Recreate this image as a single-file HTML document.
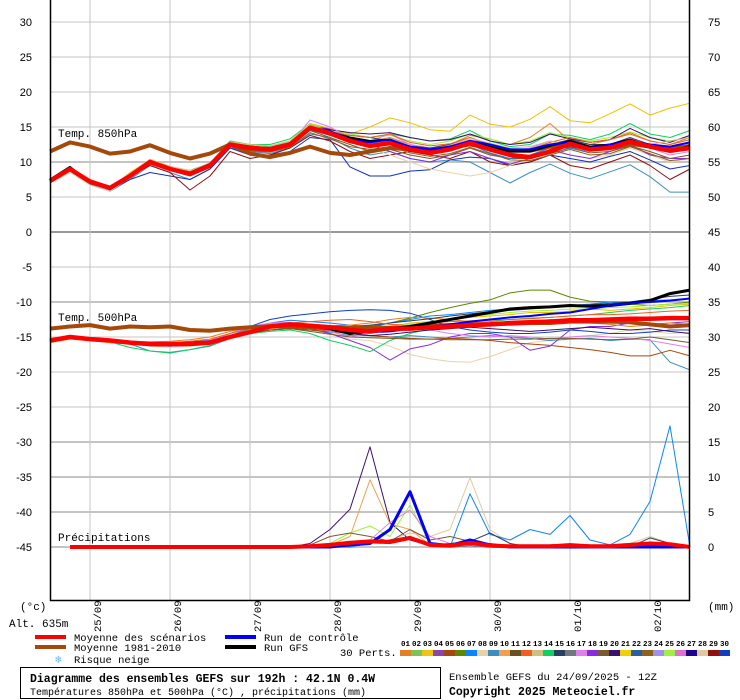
<!DOCTYPE html>
<html><head><meta charset="utf-8"><style>
html,body{margin:0;padding:0;background:#fff;}
svg{display:block;}
text{font-family:"Liberation Mono",monospace;}
.ax{font-family:"Liberation Sans",sans-serif;font-size:11px;fill:#000;}
</style></head><body>
<svg id="chart" width="740" height="700" viewBox="0 0 740 700" xmlns="http://www.w3.org/2000/svg">
<g id="grid"></g>
<g id="series"></g>
<g id="axes"></g>
<text x="58" y="137" font-size="11">Temp. 850hPa</text>
<text x="58" y="321" font-size="11">Temp. 500hPa</text>
<text x="58" y="541" font-size="11">Précipitations</text>
<text x="20" y="610" font-size="11">(°c)</text>
<text x="708" y="610" font-size="11">(mm)</text>
<text x="9" y="627" font-size="11">Alt. 635m</text>
<g>
<rect x="35" y="635" width="31" height="4" fill="#ff0000"/>
<text x="74" y="641" font-size="10.5">Moyenne des scénarios</text>
<rect x="35" y="645" width="31" height="4" fill="#a5490a"/>
<text x="74" y="651" font-size="10.5">Moyenne 1981-2010</text>
<text x="55" y="663" font-size="11" fill="#6ab8f0">❄</text>
<text x="74" y="663" font-size="10.5">Risque neige</text>
<rect x="225" y="635" width="31" height="4" fill="#0000ff"/>
<text x="264" y="641" font-size="10.5">Run de contrôle</text>
<rect x="225" y="645" width="31" height="4" fill="#000"/>
<text x="264" y="651" font-size="10.5">Run GFS</text>
<text x="340" y="656" font-size="10.5">30 Perts.</text>
<g id="perts"></g>
</g>
<rect x="20.5" y="667.5" width="420" height="31" fill="none" stroke="#000"/>
<text x="30" y="682" font-size="11.5" font-weight="bold">Diagramme des ensembles GEFS sur 192h : 42.1N 0.4W</text>
<text x="30" y="695" font-size="10">Températures 850hPa et 500hPa (°C) , précipitations (mm)</text>
<text x="449" y="680" font-size="10.5">Ensemble GEFS du 24/09/2025 - 12Z</text>
<text x="449" y="695" font-size="11.5" font-weight="bold">Copyright 2025 Meteociel.fr</text>
</svg>
<script>
const days = ["25/09","26/09","27/09","28/09","29/09","30/09","01/10","02/10"];
const leftTicks = [30,25,20,15,10,5,0,-5,-10,-15,-20,-25,-30,-35,-40,-45];
const rightTicks = [75,70,65,60,55,50,45,40,35,30,25,20,15,10,5,0];
const m850 = [7.3,9,7.2,6.3,8,10,9,8.3,9.5,12.5,12,11.8,12.5,14.9,14.1,13,12.3,12.7,11.8,11.3,11.8,12.7,11.8,11,10.7,11.5,12.6,11.8,12,12.9,12.2,11.6,12];
const c850 = [11.5,12.8,12.2,11.2,11.5,12.4,11.3,10.5,11.2,12.5,11.2,10.7,11.3,12.2,11.3,11,11.5,12,11.8,11.6,12.1,12.5,12,11.6,11.6,12.2,12.3,12,12,12.6,12.2,12,12.2];
const ctl850 = [7.4,9.1,7.1,6.2,7.9,9.9,9,8.2,9.5,12.4,12,11.8,12.6,15,14.4,13.2,12.8,13.2,12.2,11.8,12.2,13,12.5,11.8,11.8,12.5,12.8,12,12.5,13,12.5,12.2,12.8];
const gfs850 = [7.5,9.3,7,6.3,8,10,9.1,8.5,9.7,12.6,12,11.9,12.5,15,14.2,13.5,13,13.2,12,11.5,12,13,12.2,11.5,11.5,12.3,13,12.2,12.5,13.2,12.3,11.5,12.3];
const p850a = [7.5,9.2,7,6.2,8.5,10.3,9.3,8.8,9.8,12.8,12.3,12.2,13,15.5,14.8,14,15,16.3,15.6,14.6,14.4,16.7,15.4,15,16.1,17.9,15.9,15.6,16.9,18.3,16.7,17.7,18.4];
const p850b = [7,8.7,6.8,5.8,7.5,9.5,8.5,7.5,9,12,11.5,11.2,12,14,13.5,12,11,11.5,10.5,10,10.3,10,8.5,7,8.5,9.7,8.4,7.6,8.6,9.6,7.9,5.7,5.7];
const p850c = [7.4,9,7,6,7.5,8.5,8,7.5,9,12,11,11,11.5,13.5,13.2,9.3,8,8,8.7,8.9,10.3,10.7,10.5,9.5,10,11,10.5,10,10.8,11.5,10.3,9,9.5];
const p850d = [7.3,9,7.5,6.5,8.2,10.2,9.3,8.8,9.8,13,12.5,12.5,13.3,15.5,14.5,14,13.5,14,13.5,13,13.3,14.5,13,12.2,12.5,14,13.8,13.2,14,15.5,14,13.5,14.5];
const p850e = [7.2,9,7,6.2,8,9.5,8.5,6,8,11.5,10.5,11,12,13.8,13,11.5,10.5,11,11.5,11,10.5,11.5,10,9.5,10,11,9.5,9,10,11,9.5,7.5,9];
const p850f = [7.5,9.1,7.2,6.4,8.2,10,9.2,8.6,9.7,12.7,12.2,12,12.7,15,14.5,13.5,13,13.5,12.5,12,12.5,13.8,13.3,12.5,13.5,15.5,13,12.5,13.2,14.2,13,12.5,13.5];
const p850g = [7,8.5,6.7,5.8,7.8,10,9.3,8.8,9.5,12.3,11.8,11.6,12.2,15,14.6,13.5,12,11,10,9,8.5,8,8.5,9.5,10.5,11.5,11,10.5,11,12,11,10,10.5];
const p850h = [7.2,9,7.1,6.4,8,10,9,8.3,9.4,12.6,12,11.8,12.5,15.3,14.7,13.5,12.5,11.5,10.5,10,11,11.5,10.5,9.7,10.5,11.8,11,10.5,11.5,12.5,11,10.5,10.5];
const p850i = [7.3,9,7.2,6.3,8.3,10.2,9.2,8.5,9.7,12.8,12.4,12.2,13,15.5,14.5,14,13.5,13.8,13,12.5,13,14,13.3,12.5,13,14.2,13.5,13,13.5,14.3,13.5,13,13.5];
const p850j = [7.4,9.2,7.3,6.4,8.2,10.3,9.1,8.4,9.6,12.6,12.2,12.1,12.8,15.2,14.6,14.2,14,14.2,13.5,13,13.2,14,13,12.5,12.8,14,13.3,12.8,13.2,14.8,13.5,12.8,13.8];
const p850k = [7.3,9,7.1,6.3,8,10,9,8.4,9.5,12.6,12,11.8,12.5,16,15,13.5,13,14,12.5,12,12.3,13.2,12.5,11.5,12,13,12.5,12,12.5,13.5,12,11,11.5];
const p850l = [7.5,9.3,7.3,6.4,8.1,10.1,9,8.4,9.6,12.7,12.3,12,12.6,14.5,14,13.8,13.5,13,12.3,12,12.5,13.5,12.5,11.5,11.5,12.5,13.2,12.5,12.5,13.5,12.5,12,12.5];
const p850m = [7.4,9.1,7.2,6.4,8.1,10.1,9.1,8.4,9.6,12.7,12.1,12,12.8,15.1,14.3,13.8,13.5,14,12.8,12.3,12.6,13.5,12.3,11.5,11.8,12.8,13.5,12.8,13.2,14,13,12.5,13.2];
const p850n = [7.2,8.9,7,6.2,7.9,9.8,8.8,8.1,9.3,12.3,11.7,11.5,12.2,14.5,13.5,12.5,11.5,11.8,11,10.5,11,12,11,10.5,10.5,11.2,12,11.3,11.5,12.3,11.5,10.5,11];
const p850o = [7.3,9,7.2,6.3,8,9.8,9,8.3,9.4,12.4,11.8,11.6,12.4,14.6,13.8,12.8,12.5,13,12,11.5,12,12.5,11.3,10.5,11,12,12,11.5,12,12.5,12,11.5,11.8];
const p850p = [7.5,9.2,7.3,6.5,8.3,10.4,9.4,8.7,9.9,12.9,12.5,12.3,13,15.3,14.4,13.2,12.6,13.3,12.3,11.8,12.4,13.4,12.7,12,12.2,13,12.3,11.5,11.8,13,12.5,13,13.5];
const p850q = [7.1,8.8,6.9,6.1,7.8,9.7,8.8,8,9.2,12.2,11.6,11.4,12.1,14.2,13.3,12.2,11.8,12.2,11.3,10.8,11.2,12.1,11.2,10.3,10.2,11,11.8,11,11.2,12.2,11.2,10.2,10.5];
const m500 = [-15.5,-15,-15.3,-15.5,-15.8,-16,-16,-16,-15.8,-15,-14.3,-13.5,-13.2,-13.4,-13.6,-14,-14.2,-13.8,-13.8,-13.6,-13.5,-13.3,-13.2,-13,-12.9,-12.8,-12.6,-12.6,-12.5,-12.4,-12.4,-12.3,-12.3];
const c500 = [-13.8,-13.5,-13.3,-13.8,-13.5,-13.6,-13.5,-14,-14.1,-13.8,-13.6,-13.5,-13.5,-13.6,-13.8,-13.7,-13.6,-13.7,-13.6,-13.4,-13.3,-13.2,-13.2,-13.1,-13,-13,-12.8,-12.8,-12.8,-12.9,-13.2,-13.5,-13.3];
const ctl500 = [-15.5,-15.1,-15.3,-15.6,-15.8,-16,-16,-15.8,-15.6,-15,-14.2,-13.6,-13.3,-13.5,-13.8,-14,-14.3,-14.2,-13.8,-13.5,-13.2,-12.8,-12.5,-12.2,-12,-11.7,-11.5,-11,-10.5,-10.2,-10,-9.8,-9.5];
const gfs500 = [-15.5,-15,-15.3,-15.5,-15.8,-16.1,-16.1,-16,-15.7,-15,-14.3,-13.5,-13.2,-13.3,-13.8,-14.5,-14.2,-13.8,-13.5,-13,-12.5,-12,-11.5,-11,-10.8,-10.7,-10.5,-10.6,-10.5,-10.2,-9.8,-8.8,-8.3];
const p500a = [-15.3,-14.8,-15.2,-15.6,-16,-16.2,-16.3,-16.2,-16,-15.2,-14.5,-13.8,-13.5,-13.7,-13.8,-13.9,-13.6,-13,-12.3,-11.5,-10.8,-10.2,-9.7,-8.7,-8.3,-8.3,-9.3,-9.9,-10,-10.3,-10.5,-10.3,-10];
const p500b = [-15.8,-15.2,-15.5,-15.8,-16,-16.3,-16.5,-16.3,-16,-15,-14.2,-13.8,-13.7,-14,-14.5,-15.3,-15.5,-16.3,-17.5,-18.1,-18.5,-18.6,-17.8,-16.8,-15.8,-15.5,-15,-14.8,-14.5,-14,-14.2,-14.5,-14.3];
const p500c = [-15.5,-15,-15.3,-15.5,-16,-17,-17.2,-16.8,-16.3,-15.2,-14.5,-14,-13.8,-14,-14.3,-14.8,-14.8,-15,-14.8,-15,-15.2,-15,-14.8,-15,-15.2,-15.5,-15.3,-15.2,-15.5,-15.3,-15.4,-18.6,-19.7];
const p500d = [-15.6,-15.1,-15.4,-15.8,-16,-16.2,-16.3,-16.2,-15.8,-14.8,-14,-13.5,-13.2,-13.8,-14.5,-15.5,-16.5,-18.3,-16.7,-16.1,-15,-14.5,-14.5,-15,-16.9,-16.3,-14,-13.5,-13.5,-13,-13.2,-13,-12.8];
const p500e = [-15.4,-15,-15.3,-15.6,-15.9,-16,-16.1,-16,-15.8,-15,-14.5,-14,-13.8,-14,-14.2,-14.5,-14.8,-15,-15.2,-15.3,-15.2,-15.3,-15.5,-15.8,-16,-16.2,-16.5,-16.8,-17.2,-17.7,-17.7,-16.9,-17.7];
const p500f = [-15.5,-15,-15.3,-15.5,-15.8,-16,-16,-15.9,-15.6,-14.5,-13.5,-12.5,-12,-11.7,-11.4,-11.2,-11.1,-11.2,-11.6,-12.5,-13.5,-14,-14.3,-14.5,-14.5,-14.3,-14,-14.2,-14.5,-14.5,-14.3,-14,-14];
const p500g = [-15.5,-15.1,-15.4,-15.7,-16.5,-17,-17.3,-16.8,-16.2,-15,-14.5,-14.2,-14,-14.5,-15.5,-16.2,-17.1,-15.5,-14.5,-13.8,-13.5,-13,-12.8,-12.5,-12.3,-12.2,-12,-11.8,-11.5,-11.2,-11,-10.8,-10.5];
const p500h = [-15.3,-14.9,-15.1,-15.4,-15.6,-15.8,-15.8,-15.7,-15.5,-14.8,-13.8,-13,-12.6,-12.8,-13,-13.3,-13.5,-13,-12.5,-12,-11.8,-11.5,-11.2,-11,-10.8,-10.6,-10.5,-10.3,-10,-10,-9.8,-9.7,-9.5];
const p500i = [-15.8,-15.3,-15.5,-15.8,-16,-16.1,-16.2,-16,-15.8,-15.2,-14.5,-13.8,-13.5,-13.8,-14,-14.2,-14,-13.5,-13,-12.8,-12.5,-12.2,-12,-11.8,-11.5,-11.5,-11.3,-11,-11.2,-11,-10.8,-10.5,-10.3];
const p500j = [-15.6,-15.2,-15.3,-15.5,-15.6,-15.7,-15.6,-15.4,-15,-14.2,-13.6,-13.2,-13,-13.2,-13.4,-13.3,-13,-12.5,-12.2,-12.3,-12.5,-12.8,-13,-13,-12.8,-12.5,-12.6,-13,-13.2,-13.5,-13.3,-13,-13.2];
const p500k = [-15.5,-15,-15.3,-15.5,-15.8,-15.8,-16,-15.8,-15.5,-14.5,-13.5,-13,-12.9,-13.5,-14.2,-15,-14.5,-14,-13.8,-14,-14.5,-14.8,-15,-14.8,-15,-15.3,-15,-14.8,-15,-15.2,-15.5,-16,-16.5];
const p500l = [-15.5,-15,-15.3,-15.5,-15.8,-16,-16,-15.9,-15.7,-14.9,-14.1,-13.4,-13,-13.2,-13.4,-13.5,-13.3,-13,-12.7,-12.4,-12,-11.7,-11.4,-11.2,-11,-10.8,-10.6,-10.4,-10.2,-10,-9.6,-9.2,-9];
const p500m = [-15.4,-15,-15.2,-15.4,-15.6,-15.8,-15.8,-15.6,-15.3,-14.5,-13.8,-13.2,-13,-12.8,-12.6,-12.5,-12.8,-13.2,-13.3,-13,-12.8,-12.7,-12.6,-12.5,-12.4,-12.2,-12,-11.8,-11.8,-11.7,-11.5,-11.3,-11.2];
const p500n = [-15.6,-15.2,-15.4,-15.6,-15.9,-16.1,-16.2,-16.1,-15.9,-15.1,-14.5,-14,-13.8,-14.2,-14.6,-15,-15.1,-15.2,-15.3,-15.3,-15.4,-15.4,-15.4,-15.3,-15.3,-15.2,-15.2,-15.3,-15.4,-15.3,-15,-15.4,-15.8];
const p500o = [-15.5,-15,-15.3,-15.5,-15.7,-15.9,-15.9,-15.8,-15.6,-14.8,-14,-13.4,-13.1,-13.3,-13.6,-13.8,-13.8,-13.5,-13.2,-12.8,-12.4,-12,-11.8,-11.5,-11.3,-11.2,-11,-11,-10.8,-10.7,-10.5,-10.3,-10.2];
const p500p = [-15.6,-15.1,-15.4,-15.6,-15.9,-16,-16.1,-16,-15.8,-15.1,-14.4,-13.7,-13.4,-13.6,-14,-14.5,-14.8,-14.6,-14.3,-14,-13.8,-13.6,-13.8,-14,-14.2,-14,-13.8,-13.6,-13.8,-14,-13.8,-14.2,-14.5];
const pMean = [0,0,0,0,0,0,0,0,0,0,0,0,0,0.1,0.3,0.6,0.8,0.7,1.3,0.3,0.2,0.6,0.2,0.1,0.1,0.1,0.2,0.1,0.1,0.3,0.5,0.4,0];
const pCtl = [0,0,0,0,0,0,0,0,0,0,0,0,0,0,0,0.3,0.5,2.5,7.9,0.5,0.2,1,0.3,0,0,0,0,0,0,0,0,0,0];
const pIndigo = [0,0,0,0,0,0,0,0,0,0,0,0,0,0.5,2.5,5.4,14.3,3.5,1,0.2,0,0.2,0,0,0,0,0,0,0,0,0,0,0];
const pOrange = [0,0,0,0,0,0,0,0,0,0,0,0,0,0,0.3,1.5,9.6,3.3,2.5,0.3,0,0.5,0.2,0,0,0,0,0,0,0,0,0,0];
const pLime = [0,0,0,0,0,0,0,0,0,0,0,0,0,0,0.5,2,3,1.5,6,0.5,0,0.3,0,0,0,0,0,0,0,0,0,0,0];
const pTan = [0,0,0,0,0,0,0,0,0,0,0,0,0,0,0.2,0.5,1,1,2,1.5,2.5,9.9,2.5,0.5,0,0,0,0,0.3,0.5,1.5,0.5,0];
const pDodger = [0,0,0,0,0,0,0,0,0,0,0,0,0,0,0,0,0.5,1,1.5,0.1,0,7.6,1.8,1,2.5,1.8,4.5,1,0.3,1.8,6.5,17.3,0];
const pBrown = [0,0,0,0,0,0,0,0,0,0,0,0,0,0.3,1.5,2,1.5,0.8,2.5,1,1.5,0.8,0.5,0.2,0.2,0.3,0.5,0.3,0.2,0.3,0.2,0.2,0];
const pViolet = [0,0,0,0,0,0,0,0,0,0,0,0,0,0,0,0.5,1,3.5,5.3,1.5,0.5,0.3,0,0,0,0,0,0,0,0,0,0,0];
const pSlate = [0,0,0,0,0,0,0,0,0,0,0,0,0,0,0,0.2,0.5,1,1.5,0.3,0.5,0.8,2,0.5,0,0,0,0,0,0,1.3,0.5,0];
const pertColors = ["#e67e22","#7dc35a","#f1c40f","#8e44ad","#a5490a","#5a8a00","#0a84ff","#e8d3a8","#3a8fc0","#f0a050","#6b5020","#f06020","#d0c080","#10d060","#284060","#707880","#e080f0","#8a2be2","#7a5a30","#3a1070","#f0d000","#2a60a0","#906020","#a090f0","#a0f040","#e070d0","#200090","#e0c8a0","#901010","#1040c0"];

const NS="http://www.w3.org/2000/svg";
const X0=50,DX=20;
function xs(i){return X0+i*DX;}
function yT(v){return 232-7*v;}
function yP(v){return 547-7*v;}
function mk(tag,attrs,parent){const e=document.createElementNS(NS,tag);for(const k in attrs)e.setAttribute(k,attrs[k]);parent.appendChild(e);return e;}
const grid=document.getElementById('grid'),series=document.getElementById('series'),axes=document.getElementById('axes');

leftTicks.forEach((t,i)=>{
  const y=yT(t);
  const thick=(t===0||t===10||t===-10||t<=-30);
  const l=mk('line',{x1:50,x2:690,y1:y,y2:y,stroke:t===0?'#999':'#c4c4c4','stroke-width':thick?2:1},grid);
  
  
  const tl=mk('text',{x:32,y:y+4,'text-anchor':'end',class:'ax'},axes);tl.textContent=t;
  
  
  const tr=mk('text',{x:708,y:y+4,class:'ax'},axes);tr.textContent=rightTicks[i];
  
  
});
days.forEach((d,i)=>{
  const x=90+i*80;
  const l=mk('line',{x1:x,x2:x,y1:0,y2:600,stroke:'#c4c4c4','stroke-width':1},grid);
  
  
  const t=mk('text',{transform:`translate(${x+11},632) rotate(-90)`,'font-size':'10.5'},axes);t.textContent=d;
  
  
});
const bl=mk('path',{d:'M50.5,0 V600.5 H689.5 V0',fill:'none',stroke:'#000','stroke-width':1.5},axes);



function line(arr,fy,color,w,name,start){
  const pts=[];for(let i=(start||0);i<arr.length;i++)pts.push(xs(i)+','+fy(arr[i]).toFixed(1));
  const p=mk('polyline',{points:pts.join(' '),fill:'none',stroke:color,'stroke-width':w,'stroke-linejoin':'round'},series);
  
  
}
const mem850=[[p850a,"#f0c000"],[p850b,"#3a8fc0"],[p850c,"#1030c0"],[p850d,"#10d060"],[p850e,"#901010"],[p850f,"#e67e22"],[p850g,"#e8d3a8"],[p850h,"#8a2be2"],[p850i,"#a0f040"],[p850j,"#3a1070"],[p850k,"#e080f0"],[p850l,"#284060"],[p850m,"#f06020"],[p850n,"#7a5a30"],[p850o,"#0a84ff"],[p850p,"#d0c080"],[p850q,"#906020"]];
mem850.forEach(m=>line(m[0],yT,m[1],1,'member-850'));
const mem500=[[p500a,"#5a8a00"],[p500b,"#e8d3a8"],[p500c,"#3a8fc0"],[p500d,"#8a2be2"],[p500e,"#a5490a"],[p500f,"#1040c0"],[p500g,"#10d060"],[p500h,"#0a84ff"],[p500i,"#f0c000"],[p500j,"#e67e22"],[p500k,"#e080f0"],[p500l,"#284060"],[p500m,"#f06020"],[p500n,"#7a5a30"],[p500o,"#a0f040"],[p500p,"#3a1070"]];
mem500.forEach(m=>line(m[0],yT,m[1],1,'member-500'));
const memP=[[pIndigo,"#3a1070"],[pOrange,"#f0a050"],[pLime,"#a0f040"],[pTan,"#e0c8a0"],[pDodger,"#0a84ff"],[pBrown,"#7a5a30"],[pViolet,"#e080f0"],[pSlate,"#284060"]];
memP.forEach(m=>line(m[0],yP,m[1],1,'member-precip',1));
line(c850,yT,'#a5490a',4,'climo-850');
line(c500,yT,'#a5490a',4,'climo-500');
line(gfs850,yT,'#000',2,'gfs-850');
line(gfs500,yT,'#000',3,'gfs-500');
line(ctl850,yT,'#0000ff',2,'control-850');
line(ctl500,yT,'#0000ff',2,'control-500');
line(pCtl,yP,'#0000ff',3,'control-precip',1);
line(m850,yT,'#ff0000',4.5,'mean-850');
line(m500,yT,'#ff0000',4.5,'mean-500');
line(pMean,yP,'#ff0000',4,'mean-precip',1);

const perts=document.getElementById('perts');
pertColors.forEach((c,i)=>{
  const x=400+i*11;
  const r=mk('rect',{x:x,y:650,width:11,height:6,fill:c},perts);
  
  
  const t=mk('text',{x:x+5.5,y:646,'text-anchor':'middle','font-size':'7.5','font-weight':'bold'},perts);
  t.textContent=String(i+1).padStart(2,'0');
  
  
});
</script>
</body></html>
